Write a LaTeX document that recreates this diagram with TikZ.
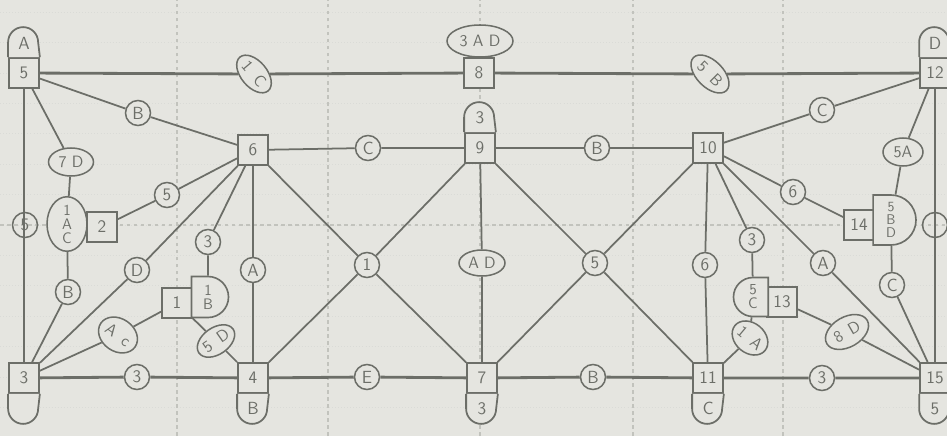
\documentclass[tikz,border=0pt]{standalone}
\usepackage{tikz}
\usetikzlibrary{shapes.geometric, shapes.misc}
\definecolor{paper}{HTML}{E5E5E0}
\definecolor{ink}{HTML}{6C6E68}
\definecolor{gridc}{HTML}{C2C3BD}

\begin{document}
\begin{tikzpicture}[x=0.03cm, y=0.03cm,
  sq/.style={rectangle, draw=ink, fill=paper, line width=1.5pt,
             minimum size=0.9cm, inner sep=0pt, text=ink,
             font=\sffamily\fontsize{15}{16}\selectfont},
  side/.style={rounded rectangle, draw=ink, fill=paper, line width=1.4pt,
               minimum width=0.9cm, inner sep=1pt, align=center, text=ink,
               font=\sffamily\fontsize{13}{12}\selectfont},
  lbl/.style={circle, draw=ink, fill=paper, line width=1.3pt,
              minimum size=0.75cm, inner sep=0pt, text=ink,
              font=\sffamily\fontsize{15}{16}\selectfont},
  oval/.style={ellipse, draw=ink, fill=paper, line width=1.3pt,
               inner sep=0pt, text=ink,
               font=\sffamily\fontsize{14}{15}\selectfont},
  captxt/.style={inner sep=0pt, text=ink,
                 font=\sffamily\fontsize{15}{16}\selectfont},
  edge/.style={draw=ink, line width=1.5pt},
  frm/.style={draw=ink, line width=2.4pt},
  capbox/.style={draw=ink, fill=paper, line width=1.5pt}
]
%% PAPER AND GRID
\fill[paper] (0,0) rectangle (947,436);
\useasboundingbox (0,0) rectangle (947,436);
\foreach \k in {-6,...,7}
  \draw[gridc!60, line width=0.6pt, dotted] (0,211+30.4*\k) -- (947,211+30.4*\k);
\foreach \gx in {177,328,480,633,783}
  \draw[gridc, line width=0.9pt, dashed] (\gx,0) -- (\gx,436);
\draw[gridc, line width=0.9pt, dashed] (0,211) -- (947,211);

%% SQUARE NODES
\node[sq] (n5)  at (24,363)  {5};
\node[sq] (n8)  at (479,363) {8};
\node[sq] (n12) at (935,363) {12};
\node[sq] (n6)  at (253,286) {6};
\node[sq] (n9)  at (480,288) {9};
\node[sq] (n10) at (708,288) {10};
\node[sq] (n2)  at (102,209) {2};
\node[sq] (n1)  at (177,133) {1};
\node[sq] (n13) at (782,134) {13};
\node[sq] (n14) at (859,211) {14};
\node[sq] (n3)  at (24,58)   {3};
\node[sq] (n4)  at (253,58)  {4};
\node[sq] (n7)  at (482,58)  {7};
\node[sq] (n11) at (708,58)  {11};
\node[sq] (n15) at (935,58)  {15};

%% SIDE SHAPES
\node[oval, minimum width=1.2cm, minimum height=1.56cm, align=center,
      font=\sffamily\fontsize{13}{12}\selectfont] (s2) at (67,212) {1\\A\\C};
\node[side, rounded rectangle west arc=none, minimum height=1.23cm] (s1) at (208,139) {1\\B};
\node[side, rounded rectangle east arc=none, minimum width=0.8cm, minimum height=1.17cm] (s13) at (753,139) {5\\C};
\node[side, rounded rectangle west arc=none, minimum width=0.95cm, minimum height=1.5cm,
      font=\sffamily\fontsize{12}{11}\selectfont] (s14) at (891,216) {5\\B\\D};
\node[oval, minimum width=1.98cm, minimum height=0.96cm] (s8) at (480,395) {3 A D};

%% CAPS
\foreach \n/\t in {n5/A, n12/D, n9/3} {
  \filldraw[capbox] (\n.north west) -- ++(0,0.45cm)
    arc[start angle=180, end angle=0, radius=0.45cm] -- (\n.north east);
  \node[captxt] (cap\n) at ([yshift=0.42cm]\n.north) {\t};
}
\foreach \n/\t in {n3/{}, n4/B, n7/3, n11/C, n15/5} {
  \filldraw[capbox] (\n.south west) -- ++(0,-0.45cm)
    arc[start angle=180, end angle=360, radius=0.45cm] -- (\n.south east);
  \node[captxt] (cap\n) at ([yshift=-0.45cm]\n.south) {\t};
}

%% LABELS
\node[oval, rotate=-50, minimum width=1.32cm, minimum height=0.78cm] (l1C) at (254,362) {1\hspace{0.6em}C};
\node[oval, rotate=-45, minimum width=1.4cm, minimum height=0.8cm] (l5B) at (710,362) {5\hspace{0.6em}B};
\node[lbl] (lB1) at (138,323) {B};
\node[oval, minimum width=1.35cm, minimum height=0.84cm] (l7D) at (71,274) {7 D};
\node[lbl] (l5a) at (167,241) {5};
\node[lbl] (lB2) at (68,144) {B};
\node[lbl] (lD1) at (137,166) {D};
\node[oval, rotate=-35, minimum width=1.25cm, minimum height=0.98cm] (lAc) at (118,101) {A\hspace{0.55em}c};
\node[lbl] (l3a) at (208,194) {3};
\node[oval, rotate=35, minimum width=1.25cm, minimum height=0.8cm] (l5D) at (216,95) {5\hspace{0.55em}D};
\node[lbl] (lA1) at (253,166) {A};
\node[lbl] (l3b) at (137,59) {3};
\node[lbl] (lC2) at (368,288) {C};
\node[lbl] (lB3) at (597,288) {B};
\node[lbl] (x1)  at (367,171) {1};
\node[oval, minimum width=1.38cm, minimum height=0.78cm] (lAD) at (482,173) {A D};
\node[lbl] (x5)  at (595,173) {5};
\node[lbl] (lE)  at (367,59) {E};
\node[lbl] (lB4) at (593,59) {B};
\node[lbl] (l6a) at (705,171) {6};
\node[lbl] (l3c) at (752,196) {3};
\node[oval, rotate=-40, minimum width=1.15cm, minimum height=0.9cm] (l1A) at (750,98) {1\hspace{0.55em}A};
\node[lbl] (lA2) at (823,173) {A};
\node[lbl] (lC3) at (892,151) {C};
\node[oval, rotate=30, minimum width=1.4cm, minimum height=0.9cm] (l8D) at (847,104) {8\hspace{0.5em}D};
\node[lbl] (l3d) at (822,58) {3};
\node[lbl] (l6b) at (793,244) {6};
\node[oval, minimum width=1.2cm, minimum height=0.84cm] (l5A) at (903,284) {5A};
\node[lbl] (lC4) at (822,326) {C};

%% FRAME
\draw[frm] (n5) -- (l1C) -- (n8) -- (l5B) -- (n12);
\draw[frm] (n3) -- (l3b) -- (n4) -- (lE) -- (n7) -- (lB4) -- (n11) -- (l3d) -- (n15);
\draw[frm] (n5) -- (n3);
\draw[frm] (n12) -- (n15);
\node[lbl, fill=none] (l5c) at (25,211) {5};
\node[lbl, fill=none] (lR)  at (935,211) {};

%% CONNECTORS
\foreach \a/\m/\b in {n5/lB1/n6, n5/l7D/s2, s2/lB2/n3, n2/l5a/n6, n3/lD1/n6,
                      n3/lAc/n1, n6/l3a/s1, n1/l5D/n4, n6/lA1/n4, n6/x1/n7,
                      n4/x1/n9, n6/lC2/n9, n9/lB3/n10, n9/lAD/n7, n9/x5/n11,
                      n10/x5/n7, n10/l6a/n11, n10/l3c/s13, s13/l1A/n11,
                      n13/l8D/n15, n10/lA2/n15, n10/l6b/n14, n10/lC4/n12,
                      n12/l5A/s14, s14/lC3/n15}
  \draw[edge] (\a) -- (\m) -- (\b);
\end{tikzpicture}
\end{document}
